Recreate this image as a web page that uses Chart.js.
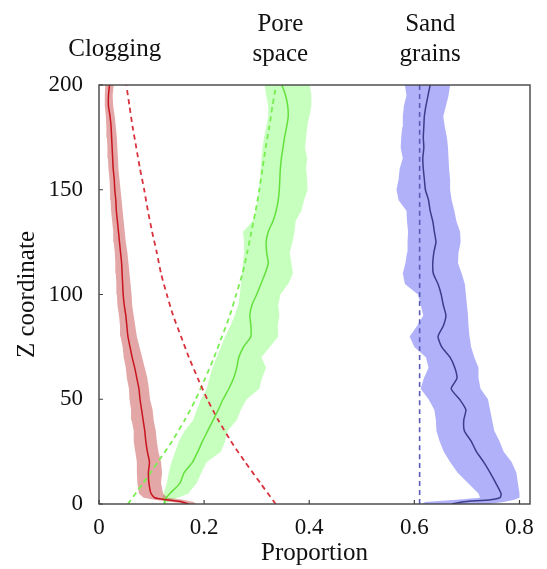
<!DOCTYPE html>
<html>
<head>
<meta charset="utf-8">
<script src="https://cdn.jsdelivr.net/npm/chart.js@4.4.1/dist/chart.umd.min.js"></script>
<style>
  html, body { margin: 0; padding: 0; background: #fff; }
  #wrap { width: 547px; height: 569px; position: relative; }
</style>
</head>
<body>
<div id="wrap"><canvas id="chart"></canvas></div>
<script>
// depth levels (Z coordinate) shared by the three profiles
const zLevels = [0, 1, 2, 3, 5, 10, 15, 20, 25, 30, 35, 40, 45, 50, 55, 60, 65, 70, 75, 80, 85, 90, 95, 100,
  105, 110, 115, 120, 125, 130, 135, 140, 145, 150, 155, 160, 165, 170, 175, 180, 185, 190, 195, 200];

// clogging (red)
const cloggingMean = [0.170, 0.158, 0.128, 0.106, 0.099, 0.095, 0.094, 0.096, 0.092, 0.089, 0.087, 0.084, 0.081, 0.078,
  0.076, 0.072, 0.068, 0.063, 0.059, 0.055, 0.053, 0.051, 0.048, 0.046, 0.045, 0.044, 0.043, 0.041, 0.039, 0.037,
  0.035, 0.033, 0.032, 0.030, 0.029, 0.027, 0.026, 0.025, 0.024, 0.023, 0.021, 0.018, 0.018, 0.020];
const cloggingLow = [0.165, 0.140, 0.105, 0.085, 0.076, 0.073, 0.072, 0.072, 0.069, 0.066, 0.066, 0.062, 0.061, 0.058,
  0.057, 0.053, 0.051, 0.047, 0.045, 0.041, 0.040, 0.038, 0.035, 0.034, 0.033, 0.032, 0.031, 0.030, 0.028, 0.027,
  0.025, 0.023, 0.022, 0.021, 0.020, 0.018, 0.017, 0.016, 0.015, 0.014, 0.013, 0.011, 0.011, 0.012];
const cloggingHigh = [0.185, 0.180, 0.160, 0.130, 0.122, 0.118, 0.120, 0.118, 0.113, 0.110, 0.108, 0.104, 0.102, 0.097,
  0.095, 0.092, 0.087, 0.082, 0.077, 0.072, 0.069, 0.066, 0.063, 0.062, 0.060, 0.058, 0.056, 0.054, 0.051, 0.049,
  0.047, 0.045, 0.043, 0.041, 0.039, 0.037, 0.036, 0.035, 0.034, 0.032, 0.030, 0.027, 0.026, 0.028];

// pore space (green)
const poreMean = [0.124, 0.125, 0.126, 0.128, 0.135, 0.154, 0.162, 0.178, 0.188, 0.197, 0.207, 0.217, 0.227, 0.236,
  0.247, 0.256, 0.262, 0.266, 0.275, 0.289, 0.289, 0.287, 0.291, 0.300, 0.308, 0.316, 0.322, 0.319, 0.318, 0.322,
  0.331, 0.337, 0.341, 0.343, 0.344, 0.345, 0.347, 0.350, 0.353, 0.357, 0.360, 0.359, 0.355, 0.348];
const poreLow = [0.122, 0.122, 0.121, 0.121, 0.123, 0.129, 0.133, 0.138, 0.145, 0.152, 0.163, 0.179, 0.186, 0.194,
  0.205, 0.210, 0.216, 0.224, 0.232, 0.240, 0.250, 0.258, 0.265, 0.268, 0.270, 0.272, 0.274, 0.276, 0.276, 0.274,
  0.292, 0.298, 0.302, 0.304, 0.306, 0.308, 0.309, 0.311, 0.314, 0.318, 0.322, 0.322, 0.318, 0.315];
const poreHigh = [0.128, 0.132, 0.140, 0.150, 0.170, 0.186, 0.195, 0.205, 0.232, 0.240, 0.245, 0.262, 0.270, 0.281,
  0.305, 0.310, 0.318, 0.309, 0.325, 0.341, 0.340, 0.343, 0.341, 0.345, 0.360, 0.369, 0.366, 0.363, 0.368, 0.372,
  0.374, 0.385, 0.390, 0.397, 0.396, 0.394, 0.396, 0.392, 0.394, 0.396, 0.400, 0.404, 0.404, 0.401];

// sand grains (blue)
const sandMean = [0.672, 0.690, 0.745, 0.763, 0.765, 0.755, 0.744, 0.732, 0.718, 0.708, 0.695, 0.694, 0.698, 0.686,
  0.670, 0.681, 0.677, 0.668, 0.652, 0.645, 0.655, 0.660, 0.655, 0.651, 0.645, 0.636, 0.635, 0.637, 0.641, 0.638,
  0.635, 0.630, 0.627, 0.621, 0.619, 0.617, 0.616, 0.618, 0.617, 0.618, 0.619, 0.622, 0.626, 0.630];
const sandLow = [0.615, 0.620, 0.680, 0.725, 0.722, 0.702, 0.682, 0.668, 0.656, 0.648, 0.642, 0.641, 0.638, 0.627,
  0.612, 0.618, 0.627, 0.622, 0.600, 0.591, 0.605, 0.617, 0.612, 0.607, 0.582, 0.578, 0.583, 0.586, 0.587, 0.588,
  0.586, 0.585, 0.570, 0.566, 0.570, 0.572, 0.578, 0.574, 0.575, 0.577, 0.578, 0.580, 0.585, 0.582];
const sandHigh = [0.740, 0.770, 0.790, 0.800, 0.800, 0.797, 0.794, 0.785, 0.770, 0.762, 0.752, 0.748, 0.744, 0.740,
  0.726, 0.722, 0.722, 0.714, 0.708, 0.705, 0.703, 0.702, 0.700, 0.698, 0.696, 0.690, 0.683, 0.684, 0.688, 0.687,
  0.680, 0.676, 0.671, 0.668, 0.668, 0.666, 0.665, 0.664, 0.662, 0.658, 0.655, 0.660, 0.665, 0.668];

// dashed reference profiles
const dashZ = [0, 10, 20, 30, 40, 50, 60, 70, 80, 90, 100, 110, 120, 130, 140, 150, 160, 170, 180, 190, 200];
const cloggingRef = [0.336, 0.307, 0.278, 0.251, 0.227, 0.206, 0.188, 0.171, 0.156, 0.141, 0.129, 0.118, 0.110,
  0.101, 0.093, 0.086, 0.078, 0.071, 0.064, 0.058, 0.052];
const poreRef = [0.055, 0.084, 0.112, 0.139, 0.163, 0.184, 0.202, 0.219, 0.234, 0.249, 0.261, 0.273, 0.282,
  0.290, 0.298, 0.305, 0.311, 0.317, 0.324, 0.330, 0.337];
const sandRefZ = [0, 200];
const sandRef = [0.61, 0.61];

const xTicks = [0, 0.2, 0.4, 0.6, 0.8];
const yTicks = [0, 50, 100, 150, 200];
const groupNames = [['Clogging'], ['Pore', 'space'], ['Sand', 'grains']];

const serif = '"Liberation Serif", "DejaVu Serif", serif';

function pts(xs, zs) {
  return xs.map((v, i) => ({ x: v, y: zs[i] }));
}
function band(lo, hi, zs) {
  const up = pts(lo, zs);
  const down = pts(hi, zs).reverse();
  return up.concat(down);
}

function bandSet(lo, hi, color) {
  return { data: band(lo, hi, zLevels), backgroundColor: color, borderWidth: 0, fill: 'shape', pointRadius: 0, order: 5 };
}
function lineSet(data, color, width, dash, order) {
  return { data: data, borderColor: color, borderWidth: width, borderDash: dash, fill: false, pointRadius: 0, tension: 0.2, order: order };
}

const frame = {
  id: 'frame',
  afterDraw(chart) {
    const { ctx, chartArea: a, scales: { x, y } } = chart;
    ctx.save();
    ctx.strokeStyle = '#444';
    ctx.lineWidth = 1.4;
    ctx.strokeRect(a.left, a.top, a.right - a.left, a.bottom - a.top);
    ctx.lineWidth = 1.2;
    ctx.beginPath();
    xTicks.forEach(v => {
      const px = x.getPixelForValue(v);
      ctx.moveTo(px, a.bottom); ctx.lineTo(px, a.bottom - 4);
    });
    yTicks.forEach(v => {
      const py = y.getPixelForValue(v);
      ctx.moveTo(a.left, py); ctx.lineTo(a.left + 4, py);
    });
    ctx.stroke();

    // group names above the plot
    ctx.fillStyle = '#111';
    ctx.font = '25px ' + serif;
    ctx.textAlign = 'center';
    ctx.textBaseline = 'middle';
    const spots = [[0.03, 49], [0.345, 24], [0.63, 24]];
    groupNames.forEach((lines, i) => {
      const px = x.getPixelForValue(spots[i][0]);
      lines.forEach((t, j) => ctx.fillText(t, px, spots[i][1] + j * 30));
    });
    ctx.restore();
  }
};

new Chart(document.getElementById('chart'), {
  type: 'line',
  data: {
    datasets: [
      bandSet(cloggingLow, cloggingHigh, 'rgba(190, 45, 45, 0.42)'),
      bandSet(poreLow, poreHigh, 'rgba(120, 255, 100, 0.42)'),
      bandSet(sandLow, sandHigh, 'rgba(100, 100, 245, 0.5)'),
      lineSet(pts(cloggingRef, dashZ), '#d9323c', 1.8, [5, 4], 2),
      lineSet(pts(poreRef, dashZ), '#78ee50', 1.8, [5, 4], 2),
      lineSet(pts(sandRef, sandRefZ), '#5a5ab8', 1.6, [5, 4], 2),
      lineSet(pts(cloggingMean, zLevels), '#c8141e', 1.5, [], 1),
      lineSet(pts(poreMean, zLevels), '#64e03c', 1.5, [], 1),
      lineSet(pts(sandMean, zLevels), '#3c3c8c', 1.5, [], 1)
    ]
  },
  options: {
    responsive: true,
    maintainAspectRatio: false,
    animation: false,
    layout: { padding: { top: 85, right: 17, left: 0, bottom: 0 } },
    plugins: { legend: { display: false }, tooltip: { enabled: false } },
    scales: {
      x: {
        type: 'linear',
        min: 0,
        max: 0.82,
        afterFit(s) { s.height = 65; },
        afterBuildTicks(s) { s.ticks = xTicks.map(v => ({ value: v })); },
        grid: { drawOnChartArea: false, drawTicks: false },
        border: { display: false },
        ticks: { padding: 10, color: '#111', font: { family: serif, size: 23 } },
        title: { display: true, text: 'Proportion', color: '#111', padding: { top: 0, bottom: 3 }, font: { family: serif, size: 25, lineHeight: 1 } }
      },
      y: {
        type: 'linear',
        min: 0,
        max: 200,
        afterFit(s) { s.width = 99; },
        afterBuildTicks(s) { s.ticks = yTicks.map(v => ({ value: v })); },
        grid: { drawOnChartArea: false, drawTicks: false },
        border: { display: false },
        ticks: { padding: 16, color: '#111', font: { family: serif, size: 23 } },
        title: { display: true, text: 'Z coordinate', color: '#111', padding: { top: 15, bottom: 0 }, font: { family: serif, size: 25, lineHeight: 1 } }
      }
    }
  },
  plugins: [frame]
});
</script>
</body>
</html>
